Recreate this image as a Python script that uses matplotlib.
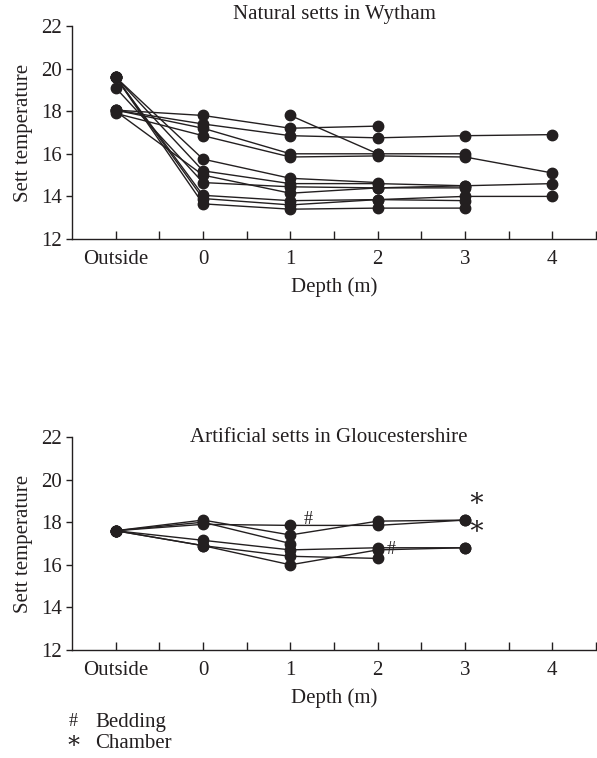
import numpy as np
import matplotlib
matplotlib.use("Agg")
import matplotlib.pyplot as plt

plt.rcParams['font.family'] = ['Liberation Serif', 'DejaVu Serif']

nan = np.nan
x_labels = ["Outside", "0", "1", "2", "3", "4"]
depths = [-1, 0, 1, 2, 3, 4]

# Natural setts in Wytham
natural = [
    [18.05, 17.8, 17.2, 17.3, nan, nan],
    [18.05, 17.4, 16.85, 16.75, 16.85, 16.9],
    [18.05, 17.2, 16.0, 16.0, 16.0, nan],
    [17.9, 16.85, 15.85, 15.9, 15.85, 15.1],
    [nan, nan, 17.8, 16.0, nan, nan],
    [18.0, 15.0, 14.15, 14.4, 14.5, 14.6],
    [19.6, 15.75, 14.85, 14.65, nan, nan],
    [19.6, 15.2, 14.6, 14.6, 14.5, nan],
    [19.1, 14.65, 14.45, 14.4, 14.4, nan],
    [19.6, 14.05, 13.8, 13.85, 14.0, 14.0],
    [19.6, 13.9, 13.6, 13.85, 13.8, nan],
    [19.6, 13.65, 13.4, 13.45, 13.45, nan],
]

# Artificial setts in Gloucestershire
artificial = [
    [17.6, 17.9, 17.85, 17.85, 18.1, nan],
    [17.6, 18.1, 17.4, 18.05, 18.1, nan],
    [17.6, 18.0, 17.0, nan, nan, nan],
    [17.6, 17.15, 16.7, 16.8, 16.8, nan],
    [17.6, 16.9, 16.4, 16.3, nan, nan],
    [17.6, 16.9, 16.0, 16.7, 16.8, nan],
]
bedding_marks = [(1, 17.85), (2, 16.8)]
chamber_marks = [(3, 18.1), (3, 16.8)]

ink = '#231f20'
fs = 15

fig = plt.figure(figsize=(5.97, 7.58), dpi=100)
W, H = 597, 758

def make_ax(top_px, bottom_px):
    left, right = 72, 596
    return fig.add_axes([left / W, 1 - bottom_px / H, (right - left) / W, (bottom_px - top_px) / H])

ax1 = make_ax(26, 239)
ax2 = make_ax(437, 650)

for ax, data in [(ax1, natural), (ax2, artificial)]:
    for s in data:
        arr = np.array(s, dtype=float)
        m = ~np.isnan(arr)
        ax.plot(np.array(depths)[m], arr[m], color=ink, lw=1.0, marker='o',
                markersize=7.5, markerfacecolor=ink, markeredgecolor=ink, zorder=3)
    ax.set_xlim(-1.5, 4.5)
    ax.set_ylim(12, 22)
    ax.set_yticks([12, 14, 16, 18, 20, 22])
    ax.set_xticks(depths)
    ax.set_xticklabels(x_labels)
    ax.set_xticks([-0.5, 0.5, 1.5, 2.5, 3.5, 4.5], minor=True)
    for sp in ['top', 'right']:
        ax.spines[sp].set_visible(False)
    for sp in ['left', 'bottom']:
        ax.spines[sp].set_color(ink)
        ax.spines[sp].set_linewidth(1.0)
    ax.tick_params(axis='x', which='both', direction='in', length=6, width=1.0,
                   color=ink, labelsize=fs, labelcolor=ink, pad=8)
    ax.tick_params(axis='y', which='both', direction='out', length=4, width=1.0,
                   color=ink, labelsize=fs, labelcolor=ink, pad=3)
    ax.set_ylabel("Sett temperature", fontsize=fs, color=ink, labelpad=6)
    ax.set_xlabel("Depth (m)", fontsize=fs, color=ink, labelpad=6)
    ax.patch.set_visible(False)

ax1.set_title("Natural setts in Wytham", fontsize=fs, color=ink, pad=5)
ax2.text(0.49, 1.0, "Artificial setts in Gloucestershire", transform=ax2.transAxes,
         ha='center', va='center', fontsize=fs, color=ink)

bed_offsets = [(13, 4), (10, -1)]
for (x, y), off in zip(bedding_marks, bed_offsets):
    ax2.annotate('#', (x, y), xytext=off, textcoords='offset points',
                 ha='center', va='center', fontsize=13, color=ink)
for (x, y) in chamber_marks:
    ax2.annotate('\u2217', (x, y), xytext=(8, 16), textcoords='offset points',
                 ha='center', va='center', fontsize=19, color=ink,
                 family=['DejaVu Serif'])

fig.text(73 / W, 1 - 722 / H, '#', ha='center', va='center', fontsize=13, color=ink)
fig.text(95 / W, 1 - 722 / H, 'Bedding', ha='left', va='center', fontsize=fs, color=ink)
fig.text(73 / W, 1 - 741 / H, '\u2217', ha='center', va='center', fontsize=17, color=ink,
         family=['DejaVu Serif'])
fig.text(95 / W, 1 - 743 / H, 'Chamber', ha='left', va='center', fontsize=fs, color=ink)

fig.savefig('out.png', dpi=100)
